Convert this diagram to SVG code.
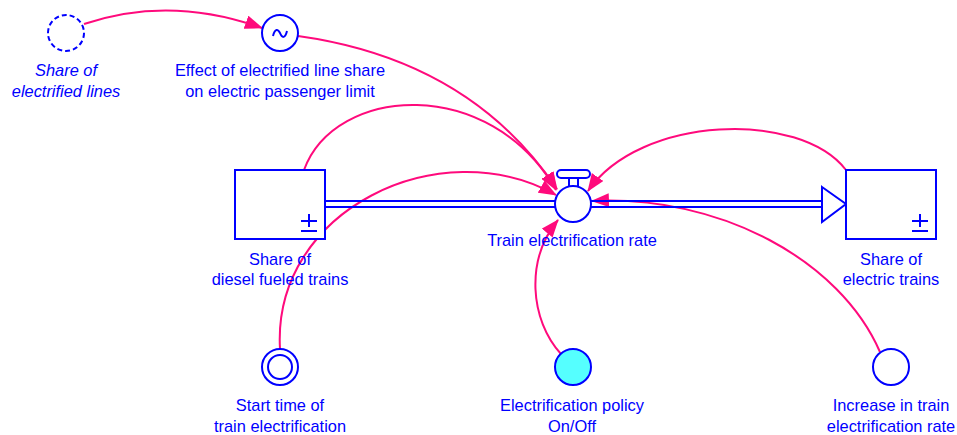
<svg xmlns="http://www.w3.org/2000/svg" width="957" height="435" viewBox="0 0 957 435">
<defs>
<marker id="ah" markerWidth="18" markerHeight="14" refX="17" refY="7" orient="auto" markerUnits="userSpaceOnUse">
<path d="M0,0 L18,7 L0,14 Z" fill="#ff0a7c"/>
</marker>
<style>
.n{fill:#fff;stroke:#0000ff;stroke-width:2}
.b{fill:none;stroke:#0000ff;stroke-width:2}
.t{font-family:"Liberation Sans",Arial,sans-serif;font-size:16.4px;fill:#0000ff;text-anchor:middle}
.i{font-style:italic}
.c{fill:none;stroke:#ff0a7c;stroke-width:2;marker-end:url(#ah)}
</style>
</defs>
<rect width="957" height="435" fill="#fff"/>
<g id="connectors">
<path class="c" d="M84,24 Q170,-5 262,28"/>
<path class="c" d="M298,36 Q470,60 557,189"/>
<path class="c" d="M304,170 C335,85 490,75 556,190"/>
<path class="c" d="M280,349 C272,210 440,130 556,195"/>
<path class="c" d="M561,354 C530,320 525,260 558,220"/>
<path class="c" d="M846,170 C800,110 640,115 588,191"/>
<path class="c" d="M880,352 C840,260 720,195 592,201"/>
</g>
<g id="pipe">
<line class="b" x1="325" y1="201" x2="556" y2="201"/>
<line class="b" x1="325" y1="207" x2="556" y2="207"/>
<line class="b" x1="590" y1="201" x2="822" y2="201"/>
<line class="b" x1="590" y1="207" x2="822" y2="207"/>
<polygon class="n" points="822,187 846,204 822,222"/>
</g>
<g id="share-electrified-lines">
<circle cx="66" cy="33" r="18" class="b" stroke-dasharray="5,3"/>
<text class="t i" x="66" y="76">Share of</text>
<text class="t i" x="66" y="97">electrified lines</text>
</g>
<g id="effect-electrified-line-share">
<circle cx="280" cy="33" r="18" class="n"/>
<path class="b" d="M273,36 C275,28 278,29 280,33 C282,38 285,39 287,31" stroke-width="1.6"/>
<text class="t" x="280" y="76">Effect of electrified line share</text>
<text class="t" x="280" y="97">on electric passenger limit</text>
</g>
<g id="share-diesel-trains">
<rect x="235" y="170" width="90" height="69" class="n"/>
<path class="b" d="M301,221 H317 M309,214 V227 M301,231 H317"/>
<text class="t" x="280" y="265">Share of</text>
<text class="t" x="280" y="285">diesel fueled trains</text>
</g>
<g id="share-electric-trains">
<rect x="846" y="170" width="90" height="69" class="n"/>
<path class="b" d="M912,221 H928 M920,214 V227 M912,231 H928"/>
<text class="t" x="891" y="265">Share of</text>
<text class="t" x="891" y="285">electric trains</text>
</g>
<g id="train-electrification-rate">
<path class="b" d="M569,178 V187 M578,178 V187"/>
<rect x="557" y="170" width="33" height="8" rx="4" class="n"/>
<circle cx="573" cy="204" r="18" class="n"/>
<text class="t" x="572" y="246">Train electrification rate</text>
</g>
<g id="start-time">
<circle cx="280" cy="367" r="18" class="n"/>
<circle cx="280" cy="367" r="12" class="b"/>
<text class="t" x="280" y="411">Start time of</text>
<text class="t" x="280" y="432">train electrification</text>
</g>
<g id="electrification-policy">
<circle cx="573" cy="367" r="18" fill="#55ffff" stroke="#0000ff" stroke-width="2"/>
<text class="t" x="572" y="411">Electrification policy</text>
<text class="t" x="572" y="432">On/Off</text>
</g>
<g id="increase-rate">
<circle cx="891" cy="367" r="18" class="n"/>
<text class="t" x="891" y="411">Increase in train</text>
<text class="t" x="891" y="432">electrification rate</text>
</g>
</svg>
